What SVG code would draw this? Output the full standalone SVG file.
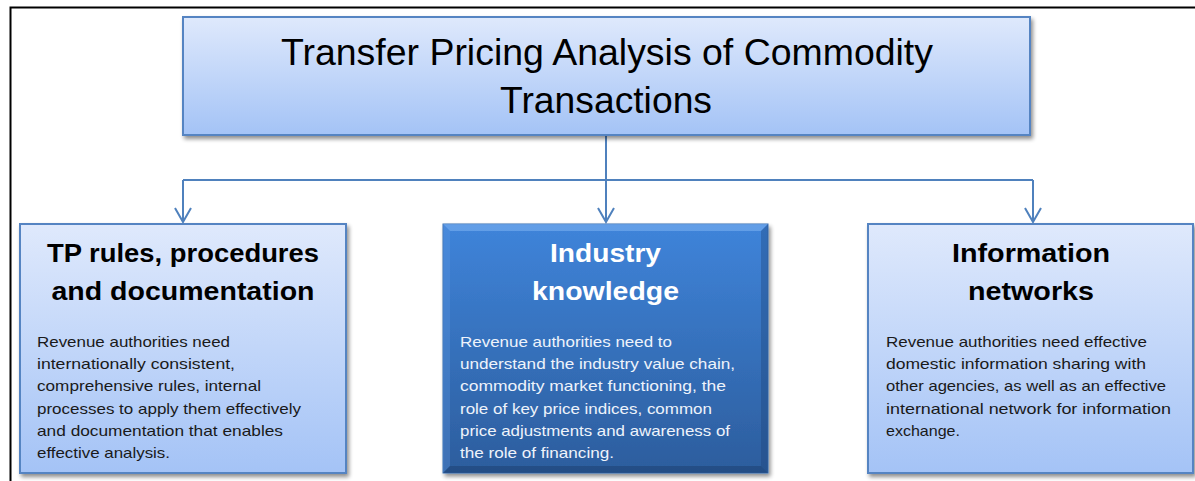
<svg xmlns="http://www.w3.org/2000/svg" width="1195" height="481" viewBox="0 0 1195 481">
<style>
.box{stroke:#5584c2;stroke-width:2}
.title{font-family:"Liberation Sans",Arial,sans-serif;font-size:36px;fill:#000}
.head{font-family:"Liberation Sans",Arial,sans-serif;font-size:25px;font-weight:bold;fill:#000;text-anchor:middle}
.headw{fill:#fff}
.body{font-family:"Liberation Sans",Arial,sans-serif;font-size:14.5px;fill:#1a1a1a}
.bodyw{fill:#eef3fb}
.conn{stroke:#4f81bd;stroke-width:2;fill:none}
</style>
<defs>
<linearGradient id="lg" x1="0" y1="0" x2="0" y2="1">
<stop offset="0" stop-color="#dfe9fc"/>
<stop offset="1" stop-color="#a4c3f6"/>
</linearGradient>
<linearGradient id="dg" x1="0" y1="0" x2="0" y2="1">
<stop offset="0" stop-color="#3f84da"/>
<stop offset="1" stop-color="#2c5d9d"/>
</linearGradient>
<filter id="sh" x="-5%" y="-5%" width="112%" height="115%">
<feGaussianBlur in="SourceAlpha" stdDeviation="2"/>
<feOffset dx="2" dy="3" result="b"/>
<feComponentTransfer><feFuncA type="linear" slope="0.45"/></feComponentTransfer>
<feMerge><feMergeNode/><feMergeNode in="SourceGraphic"/></feMerge>
</filter>
<marker id="arr" markerWidth="20" markerHeight="20" refX="15" refY="10" markerUnits="userSpaceOnUse" orient="auto" viewBox="0 0 20 20">
<path d="M1,2 L15,10 L1,18" fill="none" stroke="#4f81bd" stroke-width="2"/>
</marker>
</defs>
<rect width="1195" height="481" fill="#fff"/>
<path d="M10.5,481 V7.5 H1195" fill="none" stroke="#000" stroke-width="2"/>

<g id="connectors">
<path class="conn" d="M606,135 V222" marker-end="url(#arr)"/>
<path class="conn" d="M183,180 H1033"/>
<path class="conn" d="M183,180 V222" marker-end="url(#arr)"/>
<path class="conn" d="M1033,180 V222" marker-end="url(#arr)"/>
</g>

<g id="title">
<rect class="box" x="183" y="17" width="847" height="118" fill="url(#lg)" filter="url(#sh)"/>
<text class="title" x="281" y="65" textLength="652" lengthAdjust="spacingAndGlyphs">Transfer Pricing Analysis of Commodity</text>
<text class="title" x="500" y="113" textLength="212" lengthAdjust="spacingAndGlyphs">Transactions</text>
</g>

<g id="tp-rules">
<rect class="box" x="20" y="224" width="326" height="249" fill="url(#lg)" filter="url(#sh)"/>
<text class="head" x="183" y="262" textLength="272" lengthAdjust="spacingAndGlyphs">TP rules, procedures</text>
<text class="head" x="183" y="300" textLength="263" lengthAdjust="spacingAndGlyphs">and documentation</text>
<text class="body" x="37" y="347" textLength="193" lengthAdjust="spacingAndGlyphs">Revenue authorities need</text>
<text class="body" x="37" y="369" textLength="198" lengthAdjust="spacingAndGlyphs">internationally consistent,</text>
<text class="body" x="37" y="391" textLength="224" lengthAdjust="spacingAndGlyphs">comprehensive rules, internal</text>
<text class="body" x="37" y="414" textLength="264" lengthAdjust="spacingAndGlyphs">processes to apply them effectively</text>
<text class="body" x="37" y="436" textLength="246" lengthAdjust="spacingAndGlyphs">and documentation that enables</text>
<text class="body" x="37" y="458" textLength="133" lengthAdjust="spacingAndGlyphs">effective analysis.</text>
</g>

<g id="industry">
<rect x="443" y="224" width="325" height="249" fill="url(#dg)" stroke="#3a6fb2" stroke-width="1" filter="url(#sh)"/>
<polygon points="443,224 768,224 761,231 450,231" fill="#7fb5f2" opacity="0.55"/>
<polygon points="443,224 450,231 450,466 443,473" fill="#5b95e0" opacity="0.35"/>
<polygon points="768,224 761,231 761,466 768,473" fill="#1d4275" opacity="0.35"/>
<polygon points="443,473 450,466 761,466 768,473" fill="#1a3a68" opacity="0.45"/>
<text class="head headw" x="605.5" y="262" textLength="111" lengthAdjust="spacingAndGlyphs">Industry</text>
<text class="head headw" x="605.5" y="300" textLength="147" lengthAdjust="spacingAndGlyphs">knowledge</text>
<text class="body bodyw" x="460" y="347" textLength="212" lengthAdjust="spacingAndGlyphs">Revenue authorities need to</text>
<text class="body bodyw" x="460" y="369" textLength="275" lengthAdjust="spacingAndGlyphs">understand the industry value chain,</text>
<text class="body bodyw" x="460" y="391" textLength="266" lengthAdjust="spacingAndGlyphs">commodity market functioning, the</text>
<text class="body bodyw" x="460" y="414" textLength="252" lengthAdjust="spacingAndGlyphs">role of key price indices, common</text>
<text class="body bodyw" x="460" y="436" textLength="270" lengthAdjust="spacingAndGlyphs">price adjustments and awareness of</text>
<text class="body bodyw" x="460" y="458" textLength="154" lengthAdjust="spacingAndGlyphs">the role of financing.</text>
</g>

<g id="info-networks">
<rect class="box" x="868" y="224" width="325" height="249" fill="url(#lg)" filter="url(#sh)"/>
<text class="head" x="1031" y="262" textLength="158" lengthAdjust="spacingAndGlyphs">Information</text>
<text class="head" x="1031" y="300" textLength="126" lengthAdjust="spacingAndGlyphs">networks</text>
<text class="body" x="886" y="347" textLength="261" lengthAdjust="spacingAndGlyphs">Revenue authorities need effective</text>
<text class="body" x="886" y="369" textLength="260" lengthAdjust="spacingAndGlyphs">domestic information sharing with</text>
<text class="body" x="886" y="391" textLength="280" lengthAdjust="spacingAndGlyphs">other agencies, as well as an effective</text>
<text class="body" x="886" y="414" textLength="285" lengthAdjust="spacingAndGlyphs">international network for information</text>
<text class="body" x="886" y="436" textLength="74" lengthAdjust="spacingAndGlyphs">exchange.</text>
</g>
</svg>
